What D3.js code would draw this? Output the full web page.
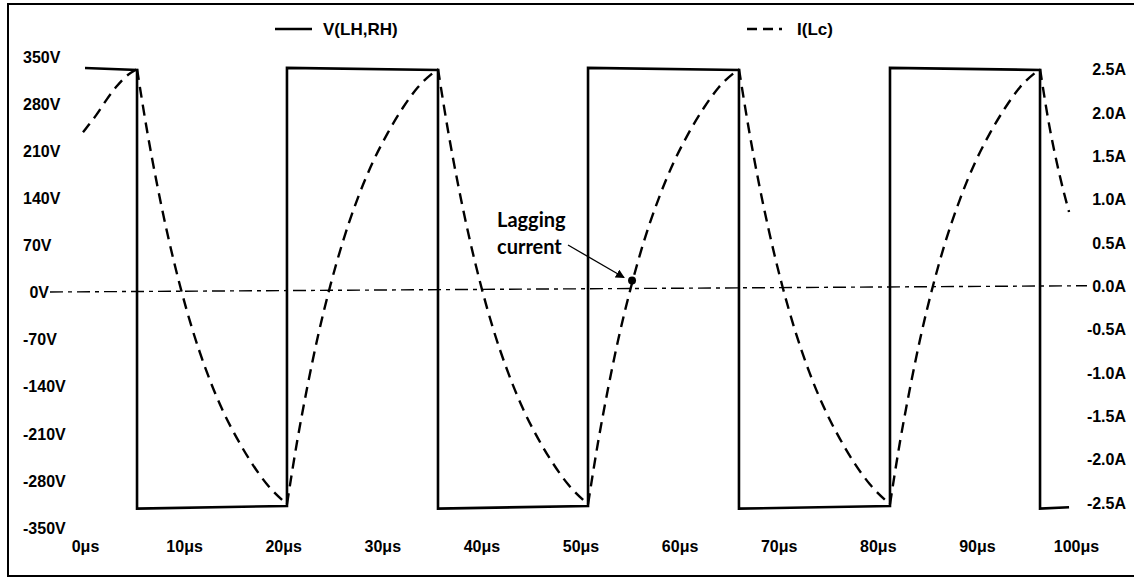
<!DOCTYPE html>
<html>
<head>
<meta charset="utf-8">
<script src="https://cdn.jsdelivr.net/npm/d3@7"></script>
<style>
  html, body { margin: 0; padding: 0; background: #fff; }
  svg { display: block; }
  .lbl { font-family: "Liberation Sans", Arial, sans-serif; font-weight: bold; fill: #000; }
</style>
</head>
<body>
<svg id="chart" width="1134" height="578"></svg>
<script>
// Half-bridge output voltage V(LH,RH) and resonant inductor current I(Lc)
const timeTicks = [0, 10, 20, 30, 40, 50, 60, 70, 80, 90, 100];
const voltTicks = [350, 280, 210, 140, 70, 0, -70, -140, -210, -280, -350];
const currTicks = [2.5, 2.0, 1.5, 1.0, 0.5, 0.0, -0.5, -1.0, -1.5, -2.0, -2.5];

// Square-wave bridge voltage (µs, V); repeated times are the switching edges
const voltTime  = [0, 5.25, 5.25, 20.38, 20.38, 35.62, 35.62, 50.76, 50.76, 65.99, 65.99, 81.23, 81.23, 96.37, 96.37, 99.3];
const voltValue = [333, 330, -322, -318, 333, 330, -322, -318, 333, 330, -322, -318, 333, 330, -322, -320];

// Inductor current (µs, A); a repeated time starts a new half-cycle
const currentTime = [
  -0.2, 1.2, 2.2, 3.2, 4.2, 5.25,
  5.25, 6.26, 7.27, 8.28, 9.59, 10.80, 12.31, 13.82, 15.34, 16.85, 18.36, 20.38,
  20.38, 21.40, 22.41, 23.43, 24.75, 25.97, 27.49, 29.02, 30.54, 32.06, 33.59, 35.62,
  35.62, 36.63, 37.64, 38.65, 39.96, 41.17, 42.69, 44.20, 45.71, 47.23, 48.74, 50.76,
  50.76, 51.78, 52.79, 53.81, 55.13, 56.34, 57.87, 59.39, 60.91, 62.44, 63.96, 65.99,
  65.99, 67.01, 68.02, 69.04, 70.36, 71.58, 73.10, 74.63, 76.15, 77.67, 79.20, 81.23,
  81.23, 82.24, 83.25, 84.26, 85.57, 86.78, 88.30, 89.81, 91.32, 92.84, 94.35, 96.37,
  96.37, 97.3, 98.3, 99.3
];
const currentAmps = [
  1.77, 1.98, 2.15, 2.30, 2.42, 2.50,
  2.50, 1.79, 1.17, 0.62, 0.00, -0.49, -1.00, -1.42, -1.76, -2.05, -2.29, -2.52,
  -2.52, -1.80, -1.18, -0.62, 0.00, 0.49, 1.00, 1.42, 1.76, 2.05, 2.29, 2.50,
  2.50, 1.79, 1.17, 0.62, 0.00, -0.49, -1.00, -1.42, -1.76, -2.05, -2.29, -2.52,
  -2.52, -1.80, -1.18, -0.62, 0.00, 0.49, 1.00, 1.42, 1.76, 2.05, 2.29, 2.50,
  2.50, 1.79, 1.17, 0.62, 0.00, -0.49, -1.00, -1.42, -1.76, -2.05, -2.29, -2.52,
  -2.52, -1.80, -1.18, -0.62, 0.00, 0.49, 1.00, 1.42, 1.76, 2.05, 2.29, 2.50,
  2.50, 1.85, 1.30, 0.85
];

const seriesNames = ["V(LH,RH)", "I(Lc)"];
const noteLines = ["Lagging", "current"];
const notePoint = { t: 55.2, i: 0.06 };

const svg = d3.select("#chart");

const x  = d3.scaleLinear().domain([0, 100]).range([85, 1076]);
const yV = d3.scaleLinear().domain([-350, 350]).range([527.5, 56.5]);
const yI = d3.scaleLinear().domain([-2.5, 2.5]).range([502.5, 69]);

// frame
svg.append("rect")
  .attr("x", 8).attr("y", 4).attr("width", 1140).attr("height", 572)
  .attr("fill", "none").attr("stroke", "#000").attr("stroke-width", 2);

// left voltage axis
const gL = svg.append("g").attr("class", "lbl")
  .call(d3.axisLeft(yV).tickValues(voltTicks).tickSize(0).tickFormat(d => d + "V"));
gL.select(".domain").remove();
gL.selectAll("text")
  .attr("class", "lbl").attr("font-size", 16)
  .attr("fill", "#000")
  .attr("x", d => d === 0 ? 49 : 23)
  .attr("text-anchor", d => d === 0 ? "end" : "start")
  .attr("dy", "0.36em");

// right current axis
const gR = svg.append("g").attr("class", "lbl")
  .call(d3.axisRight(yI).tickValues(currTicks).tickSize(0).tickFormat(d => d.toFixed(1) + "A"));
gR.select(".domain").remove();
gR.selectAll("text")
  .attr("class", "lbl").attr("font-size", 16).attr("fill", "#000")
  .attr("x", 1126).attr("text-anchor", "end").attr("dy", "0.36em");

// time axis
const gB = svg.append("g").attr("transform", "translate(0,546)")
  .call(d3.axisBottom(x).tickValues(timeTicks).tickSize(0).tickFormat(d => d + "μs"));
gB.select(".domain").remove();
gB.selectAll("text")
  .attr("class", "lbl").attr("font-size", 16).attr("fill", "#000")
  .attr("y", 0).attr("dy", "0.36em");

// zero reference, joining 0V on the left to 0.0A on the right
svg.append("line")
  .attr("x1", 50).attr("y1", yV(0))
  .attr("x2", 1087).attr("y2", yI(0))
  .attr("stroke", "#000").attr("stroke-width", 1.4)
  .attr("stroke-dasharray", "13,5,4,5");

// voltage trace
const vPts = voltTime.map((t, k) => [t, voltValue[k]]);
svg.append("path")
  .datum(vPts)
  .attr("d", d3.line().x(d => x(d[0])).y(d => yV(d[1])))
  .attr("fill", "none").attr("stroke", "#000").attr("stroke-width", 2.6)
  .attr("stroke-linejoin", "miter");

// current trace, one path per half-cycle
const segments = [];
currentTime.forEach((t, k) => {
  if (k === 0 || t === currentTime[k - 1]) segments.push([]);
  segments[segments.length - 1].push([t, currentAmps[k]]);
});
const iLine = d3.line().x(d => x(d[0])).y(d => yI(d[1])).curve(d3.curveMonotoneX);
svg.append("g").selectAll("path")
  .data(segments)
  .join("path")
  .attr("d", iLine)
  .attr("fill", "none").attr("stroke", "#000").attr("stroke-width", 2.4)
  .attr("stroke-dasharray", "11,7");

// legend
svg.append("line").attr("x1", 275).attr("x2", 312).attr("y1", 29).attr("y2", 29)
  .attr("stroke", "#000").attr("stroke-width", 2.4);
svg.append("text").attr("class", "lbl").attr("font-size", 17)
  .attr("x", 323).attr("y", 29).attr("dy", "0.36em").text(seriesNames[0]);
svg.append("line").attr("x1", 747).attr("x2", 784).attr("y1", 29).attr("y2", 29)
  .attr("stroke", "#000").attr("stroke-width", 2.4)
  .attr("stroke-dasharray", "10,6,10,6,3,40");
svg.append("text").attr("class", "lbl").attr("font-size", 17)
  .attr("x", 797).attr("y", 29).attr("dy", "0.36em").text(seriesNames[1]);

// annotation
svg.append("defs").append("marker")
  .attr("id", "arrowHead").attr("viewBox", "0 0 10 10")
  .attr("refX", 9).attr("refY", 5)
  .attr("markerWidth", 9).attr("markerHeight", 9)
  .attr("markerUnits", "userSpaceOnUse")
  .attr("orient", "auto")
  .append("path").attr("d", "M0,0 L10,5 L0,10 Z").attr("fill", "#000");

const px = x(notePoint.t), py = yI(notePoint.i);
svg.append("line")
  .attr("x1", 568).attr("y1", 245)
  .attr("x2", px - 8).attr("y2", py - 3)
  .attr("stroke", "#000").attr("stroke-width", 1.3)
  .attr("marker-end", "url(#arrowHead)");
svg.append("circle").attr("cx", px).attr("cy", py).attr("r", 4).attr("fill", "#000");

svg.append("g").selectAll("text")
  .data(noteLines)
  .join("text")
  .attr("x", 497).attr("y", (d, k) => 220 + k * 27).attr("dy", "0.36em")
  .attr("font-family", "Lato, 'Open Sans', sans-serif")
  .attr("font-weight", "bold").attr("font-size", 20).attr("fill", "#000")
  .text(d => d);
</script>
</body>
</html>
